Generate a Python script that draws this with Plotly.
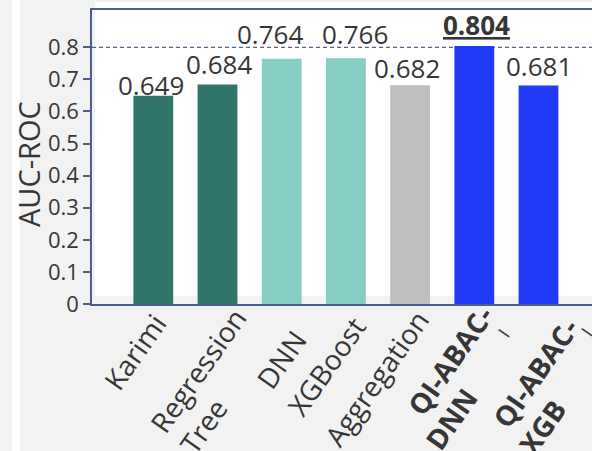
import plotly.graph_objects as go

# ---- data ----
models = ["Karimi", "Regression Tree", "DNN", "XGBoost", "Aggregation",
          "QI-ABAC-I DNN", "QI-ABAC-I XGB"]
auc = [0.649, 0.684, 0.764, 0.766, 0.682, 0.804, 0.681]
label_lines = [["Karimi"], ["Regression<br>Tree"], ["DNN"], ["XGBoost"],
               ["Aggregation"], ["QI-ABAC-", "DNN"], ["QI-ABAC-", "XGB"]]
label_bold = [False, False, False, False, False, True, True]
y_ticks = [0, 0.1, 0.2, 0.3, 0.4, 0.5, 0.6, 0.7, 0.8]
y_tick_text = ["0", "0.1", "0.2", "0.3", "0.4", "0.5", "0.6", "0.7", "0.8"]
reference_level = 0.8

# ---- styling ----
bar_colors = ["#30746a", "#30746a", "#86cdc4", "#86cdc4", "#bfbfbf",
              "#2239f7", "#2239f7"]
FONT = "Open Sans"
TXT = "#363636"
FRAME = "#4b5d8e"
PAPER = "#f2f2f2"
CAT_ANGLE = -55
CAT_SIZE = 28

W, H = 592, 451
ML, MT, MB = 92, 10, 147
PW, PH = W - ML, H - MT - MB


def px_x(p):
    return (p - ML) / PW


def px_y(p):
    return (MT + PH - p) / PH


# pixel nudges for value labels
val_dx = [-2, 1.5, -11.5, 9, -3, 2, 0.5]
val_dy = [-7, 3, 7, 6.5, -0.5, 3.5, 1]
# pixel nudges for each category-label text block
cat_dx = [[21], [66], [33], [28], [27], [27, 11], [48, 35.5]]
cat_dy = [[-3], [3], [-19], [-5], [1], [6.5, -77], [-7, -88]]
# small "I" marks following the bold labels
mark_dx = {5: 29, 6: 48}
mark_dy = {5: -29, 6: -28}

x_idx = list(range(len(models)))

fig = go.Figure()
fig.add_trace(go.Bar(
    x=x_idx, y=auc, width=0.62,
    marker=dict(color=bar_colors, line=dict(width=0)),
    hoverinfo="skip", showlegend=False,
))

annotations = []
best = max(auc)
for i, v in enumerate(auc):
    txt = f"{v:.3f}"
    if v == best:
        txt = f"<b><u>{txt}</u></b>"
    annotations.append(dict(
        x=i, y=v, xref="x", yref="y", text=txt, showarrow=False,
        xanchor="center", yanchor="bottom", xshift=val_dx[i], yshift=val_dy[i],
        borderpad=0, borderwidth=0,
        font=dict(family=FONT, size=26, color=TXT),
    ))

for i, lines in enumerate(label_lines):
    for k, line in enumerate(lines):
        body = f"<b>{line}</b>" if label_bold[i] else line
        annotations.append(dict(
            x=i, y=0, xref="x", yref="paper", text=body, showarrow=False,
            textangle=CAT_ANGLE, align="left", xanchor="right", yanchor="top",
            xshift=cat_dx[i][k], yshift=cat_dy[i][k],
            borderpad=0, borderwidth=0,
            font=dict(family=FONT, size=CAT_SIZE, color=TXT),
        ))
    if i in mark_dx:
        annotations.append(dict(
            x=i, y=0, xref="x", yref="paper", text="I", showarrow=False,
            textangle=CAT_ANGLE, xanchor="center", yanchor="middle",
            xshift=mark_dx[i], yshift=mark_dy[i], borderpad=0, borderwidth=0,
            font=dict(family=FONT, size=18, color=TXT),
        ))

annotations.append(dict(
    x=px_x(28), y=px_y(164), xref="paper", yref="paper", text="AUC-ROC",
    showarrow=False, textangle=-90, xanchor="center", yanchor="middle",
    font=dict(family=FONT, size=29, color=TXT),
))

shapes = [
    # white chart panel
    dict(type="rect", xref="paper", yref="paper", layer="below",
         x0=px_x(95), x1=px_x(600), y0=px_y(296), y1=px_y(2),
         fillcolor="white", line=dict(width=0)),
    # thin light stripe at the far left
    dict(type="rect", xref="paper", yref="paper", layer="below",
         x0=px_x(12), x1=px_x(20), y0=px_y(460), y1=px_y(-10),
         fillcolor="white", line=dict(width=0)),
    # reference level
    dict(type="line", xref="paper", yref="y", layer="below",
         x0=0, x1=1, y0=reference_level, y1=reference_level,
         line=dict(color="#2f3c6c", width=1, dash="4px,3px")),
]

y_top = PH / (304 - 47.3) * 0.8

fig.update_layout(
    width=W, height=H,
    margin=dict(l=ML, r=0, t=MT, b=MB, pad=0),
    paper_bgcolor=PAPER, plot_bgcolor="rgba(0,0,0,0)",
    annotations=annotations, shapes=shapes,
    xaxis=dict(range=[-0.955, -0.955 + PW / 64.2], showticklabels=False,
               ticks="", showgrid=False, zeroline=False,
               showline=True, mirror=True, linecolor=FRAME, linewidth=1.5),
    yaxis=dict(range=[0, y_top], tickvals=y_ticks, ticktext=y_tick_text,
               ticks="outside", ticklen=7, tickwidth=1.5, tickcolor=FRAME,
               showgrid=False, zeroline=False,
               showline=True, linecolor=FRAME, linewidth=1.5,
               tickfont=dict(family=FONT, size=22, color=TXT)),
)

fig.write_html("out.html")
